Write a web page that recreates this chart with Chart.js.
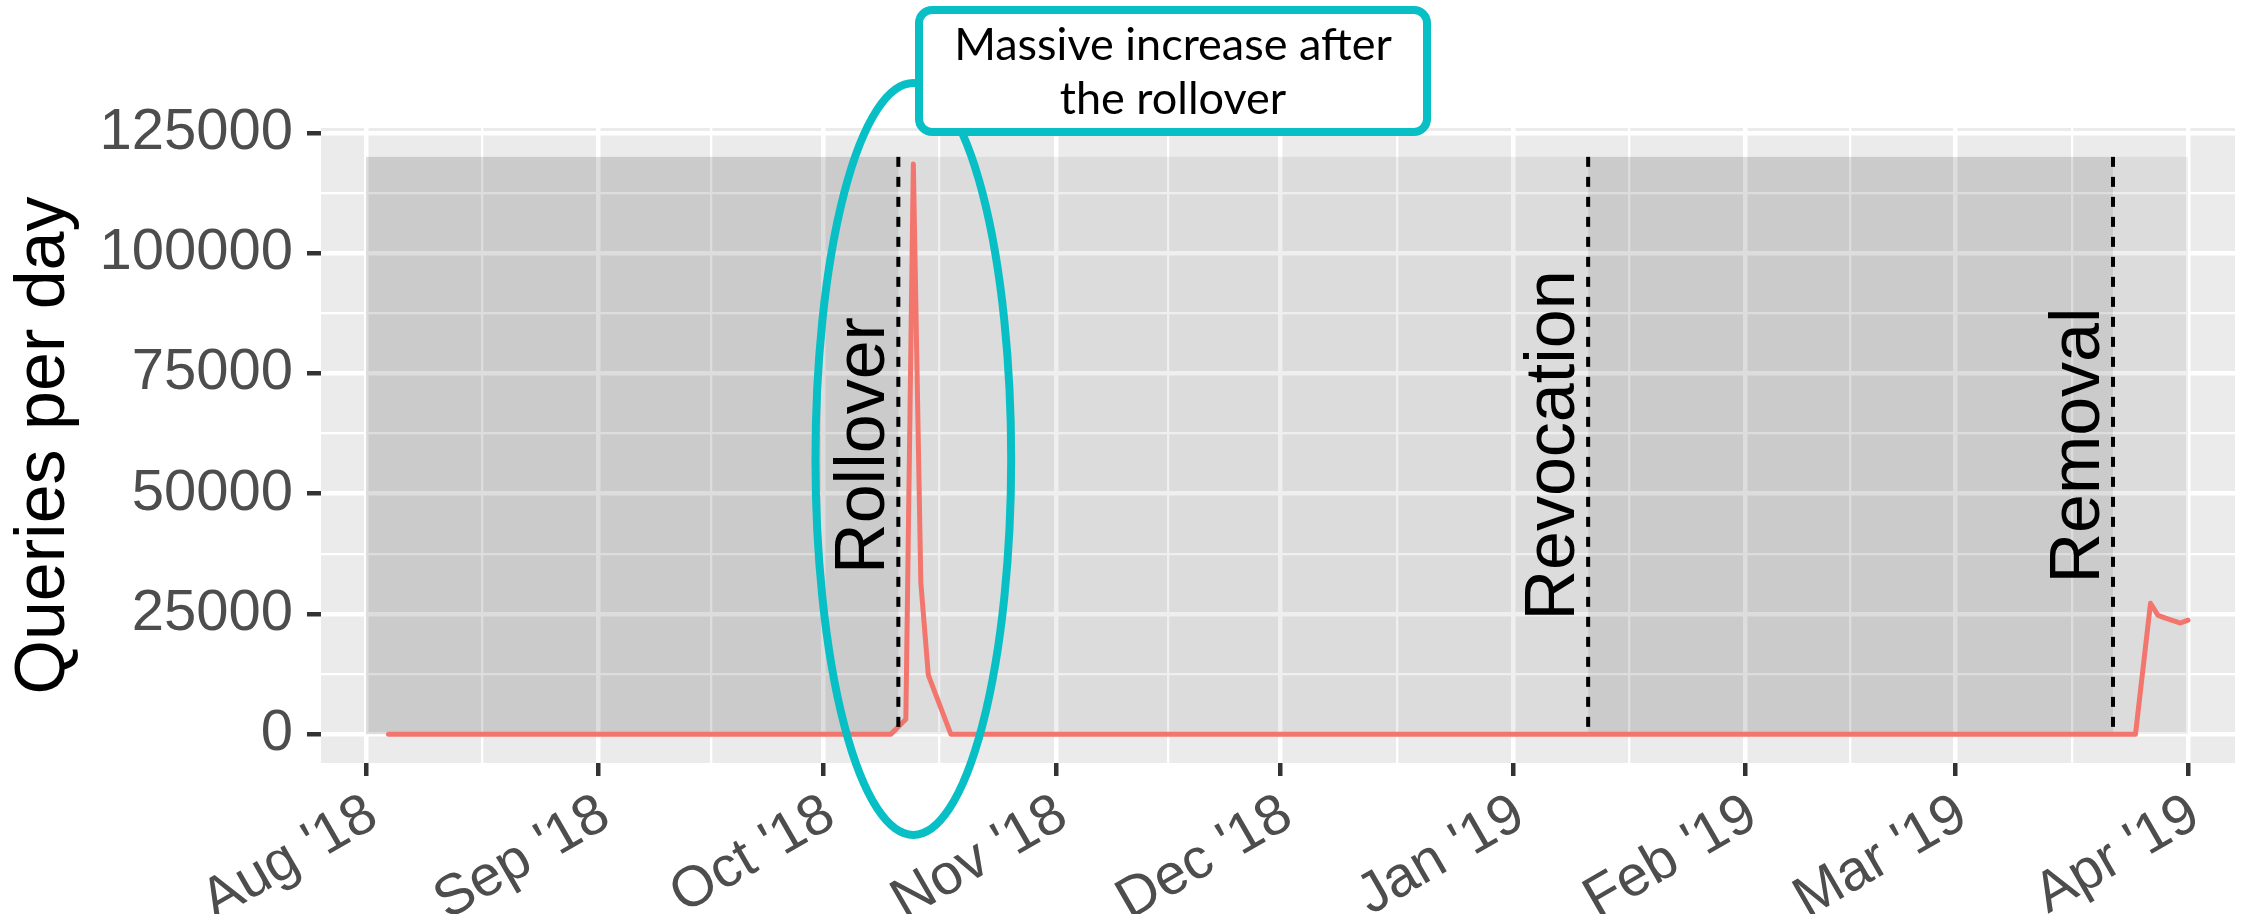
<!DOCTYPE html>
<html><head><meta charset="utf-8">
<script src="https://cdn.jsdelivr.net/npm/chart.js@4.4.0/dist/chart.umd.min.js"></script>
<style>html,body{margin:0;padding:0;background:#fff;} canvas{display:block;}</style>
</head><body>
<canvas id="c" width="2247" height="914" style="width:2247px;height:914px"></canvas>
<script>
// ---- data ----
const originDate = '2018-08-01';
const seriesDates = ['2018-08-04','2018-10-10','2018-10-11','2018-10-12','2018-10-13','2018-10-14','2018-10-15','2018-10-18',
                     '2019-03-25','2019-03-27','2019-03-28','2019-03-29','2019-03-30','2019-03-31','2019-04-01'];
const seriesValues = [0, 0, 1550, 3100, 118500, 31500, 12250, 0,
                      0, 27200, 24700, 24100, 23600, 23100, 23700];
const monthTickDates = ['2018-08-01','2018-09-01','2018-10-01','2018-11-01','2018-12-01','2019-01-01','2019-02-01','2019-03-01','2019-04-01'];
const monthTickLabels = ["Aug '18","Sep '18","Oct '18","Nov '18","Dec '18","Jan '19","Feb '19","Mar '19","Apr '19"];
const yTickValues = [0, 25000, 50000, 75000, 100000, 125000];
const yTickLabels = ['0','25000','50000','75000','100000','125000'];
const eventNames = ['Rollover','Revocation','Removal'];
const eventDates = ['2018-10-11','2019-01-11','2019-03-22'];
const shadeStarts = ['2018-08-01','2018-10-11','2019-01-11','2019-03-22'];
const shadeEnds   = ['2018-10-11','2019-01-11','2019-03-22','2019-04-01'];
const shadeTones  = ['dark','light','dark','light'];
const shadeTop = 120000;
const eventLabelValue = 60000;
const yAxisTitle = 'Queries per day';
const calloutLines = ['Massive increase after', 'the rollover'];
const highlightDate = '2018-10-13';
const highlightCenterValue = 57200;

// ---- helpers ----
function dayOf(s) {
  const [y, m, d] = s.split('-').map(Number);
  const [oy, om, od] = originDate.split('-').map(Number);
  return (Date.UTC(y, m - 1, d) - Date.UTC(oy, om - 1, od)) / 86400000;
}
const monthTickDays = monthTickDates.map(dayOf);
const minorXDays = monthTickDays.slice(1).map((d, i) => (d + monthTickDays[i]) / 2);
const minorYValues = yTickValues.slice(1).map((v, i) => (v + yTickValues[i]) / 2);
const points = seriesDates.map((d, i) => ({x: dayOf(d), y: seriesValues[i]}));

const FONT = '"Liberation Sans", Arial, Helvetica, sans-serif';
const TEAL = '#08BFC5';

const bgPlugin = {
  id: 'panelBg',
  beforeDraw(chart) {
    const {ctx, chartArea: a} = chart;
    ctx.save();
    ctx.fillStyle = '#EBEBEB';
    ctx.fillRect(a.left, a.top, a.right - a.left, a.bottom - a.top);
    ctx.restore();
  },
  beforeDatasetsDraw(chart) {
    const {ctx, scales: {x, y}} = chart;
    ctx.save();
    for (let i = 0; i < shadeStarts.length; i++) {
      const x0 = x.getPixelForValue(dayOf(shadeStarts[i]));
      const x1 = x.getPixelForValue(dayOf(shadeEnds[i]));
      const y0 = y.getPixelForValue(0);
      const y1 = y.getPixelForValue(shadeTop);
      ctx.fillStyle = shadeTones[i] === 'dark' ? 'rgba(0,0,0,0.132)' : 'rgba(0,0,0,0.064)';
      ctx.fillRect(x0, y1, x1 - x0, y0 - y1);
    }
    ctx.restore();
  },
  afterDatasetsDraw(chart) {
    const {ctx, scales: {x, y}} = chart;
    ctx.save();
    const yb = y.getPixelForValue(0), yt = y.getPixelForValue(shadeTop);
    const yc = y.getPixelForValue(eventLabelValue);
    for (let i = 0; i < eventDates.length; i++) {
      const xv = x.getPixelForValue(dayOf(eventDates[i]));
      ctx.strokeStyle = '#000';
      ctx.lineWidth = 4;
      ctx.setLineDash([10, 10]);
      ctx.beginPath();
      ctx.moveTo(xv, yt);
      ctx.lineTo(xv, yb);
      ctx.stroke();
      ctx.setLineDash([]);
      ctx.save();
      ctx.translate(xv - 14, yc);
      ctx.rotate(-Math.PI / 2);
      ctx.fillStyle = '#000';
      ctx.font = '70px ' + FONT;
      ctx.textAlign = 'center';
      ctx.textBaseline = 'alphabetic';
      ctx.fillText(eventNames[i], 0, 0);
      ctx.restore();
    }
    ctx.restore();
  },
  afterDraw(chart) {
    const {ctx, scales: {x, y}} = chart;
    ctx.save();
    // ellipse around the spike
    const cx = x.getPixelForValue(dayOf(highlightDate));
    const cy = y.getPixelForValue(highlightCenterValue);
    const rx = x.getPixelForValue(dayOf(highlightDate) + 13.05) - cx;
    const ry = 376;
    ctx.strokeStyle = TEAL;
    ctx.lineWidth = 8;
    ctx.beginPath();
    ctx.ellipse(cx, cy, rx, ry, 0, 0, Math.PI * 2);
    ctx.stroke();
    // callout box
    const bx = 919, by = 10, bw = 508, bh = 122, r = 13;
    ctx.beginPath();
    ctx.roundRect(bx, by, bw, bh, r);
    ctx.fillStyle = '#fff';
    ctx.fill();
    ctx.stroke();
    ctx.fillStyle = '#000';
    ctx.font = '45px Lato, "Noto Sans", sans-serif';
    ctx.textAlign = 'center';
    ctx.textBaseline = 'alphabetic';
    ctx.fillText(calloutLines[0], bx + bw / 2, 60);
    ctx.fillText(calloutLines[1], bx + bw / 2, 114);
    ctx.restore();
  }
};

const xTicksAll = monthTickDays.concat(minorXDays).sort((a, b) => a - b);
const yTicksAll = yTickValues.concat(minorYValues).sort((a, b) => a - b);
const isMajorX = v => monthTickDays.includes(v);
const isMajorY = v => yTickValues.includes(v);

new Chart(document.getElementById('c'), {
  type: 'line',
  data: {
    datasets: [{
      data: points,
      borderColor: '#F2766D',
      borderWidth: 5,
      pointRadius: 0,
      tension: 0,
      fill: false,
      borderJoinStyle: 'round',
      borderCapStyle: 'round'
    }]
  },
  options: {
    responsive: false,
    animation: false,
    devicePixelRatio: 1,
    layout: {padding: {top: 128, right: 12, left: 0, bottom: 0}},
    plugins: {legend: {display: false}, tooltip: {enabled: false}},
    scales: {
      x: {
        type: 'linear',
        min: -6,
        max: 249.27,
        afterBuildTicks: s => { s.ticks = xTicksAll.map(v => ({value: v})); },
        afterFit: s => { s.height = 151; },
        border: {display: false},
        grid: {
          color: '#FFFFFF',
          lineWidth: c => (c.tick && isMajorX(c.tick.value)) ? 4.5 : 2.3,
          drawTicks: true,
          tickLength: 13,
          tickWidth: 4.5,
          tickColor: c => (c.tick && isMajorX(c.tick.value)) ? '#333333' : 'rgba(0,0,0,0)'
        },
        ticks: {
          autoSkip: false,
          minRotation: 30,
          maxRotation: 30,
          padding: 5,
          labelOffset: 7,
          color: '#4D4D4D',
          font: {family: FONT, size: 57},
          callback: v => { const i = monthTickDays.indexOf(v); return i >= 0 ? monthTickLabels[i] : ''; }
        }
      },
      y: {
        type: 'linear',
        min: -6000,
        max: 126000,
        afterBuildTicks: s => { s.ticks = yTicksAll.map(v => ({value: v})); },
        afterFit: s => { s.width = 321; },
        border: {display: false},
        grid: {
          color: '#FFFFFF',
          lineWidth: c => (c.tick && isMajorY(c.tick.value)) ? 4.5 : 2.3,
          drawTicks: true,
          tickLength: 14,
          tickWidth: 4.5,
          tickColor: c => (c.tick && isMajorY(c.tick.value)) ? '#333333' : 'rgba(0,0,0,0)'
        },
        ticks: {
          autoSkip: false,
          padding: 14,
          color: '#4D4D4D',
          font: {family: FONT, size: 58},
          callback: v => { const i = yTickValues.indexOf(v); return i >= 0 ? yTickLabels[i] : ''; }
        },
        title: {
          display: true,
          text: yAxisTitle,
          color: '#000000',
          font: {family: FONT, size: 70, lineHeight: 1.2},
          padding: {top: 3, bottom: 0}
        }
      }
    }
  },
  plugins: [bgPlugin]
});
</script>
</body></html>
